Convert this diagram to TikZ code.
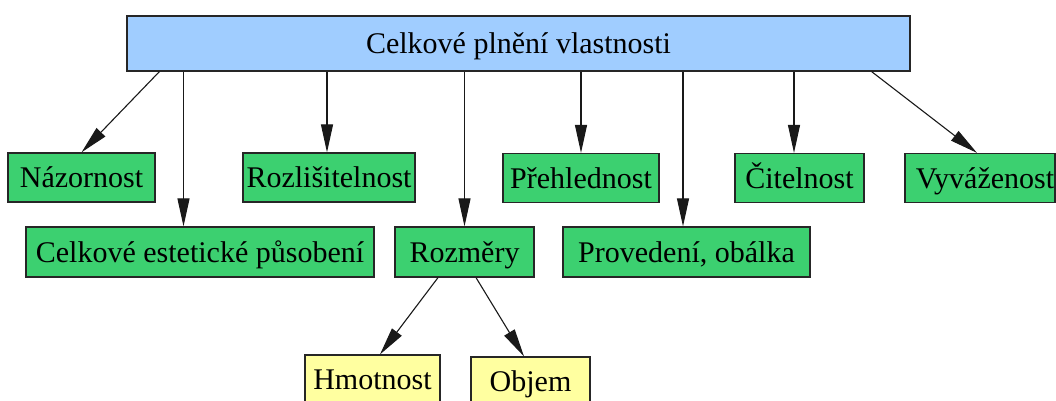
\documentclass[tikz,border=0pt]{standalone}
\usepackage{fontspec}
\setmainfont{LiberationSerif}[Extension=.ttf, UprightFont=*-Regular, BoldFont=*-Bold]
\usetikzlibrary{arrows.meta}

\definecolor{rootblue}{RGB}{160,205,255}
\definecolor{leafgreen}{RGB}{60,208,112}
\definecolor{subyellow}{RGB}{255,255,160}

\begin{document}
\begin{tikzpicture}[x=1pt,y=-1pt,
  box/.style={draw=black!85, line width=1.2pt, inner sep=0pt,
    text height=20pt, text depth=0pt,
    font=\rmfamily\fontsize{30}{36}\selectfont},
  rootbox/.style={box, fill=rootblue, minimum height=55pt},
  greenbox/.style={box, fill=leafgreen, minimum height=49pt},
  yellowbox/.style={box, fill=subyellow, minimum height=49pt},
  arr/.style={line width=1.1pt, draw=black!90,
    -{Triangle[length=28pt,width=12pt]}}]
\useasboundingbox (0,0) rectangle (1056,400);

% root
\node[rootbox, minimum width=783pt] (top) at (518.5,43.5) {Celkové plnění vlastnosti};

% first row
\node[greenbox, minimum width=147pt] (naz)  at (81.5,177.5) {Názornost};
\node[greenbox, minimum width=172pt] (rozl) at (329,177.5)  {Rozlišitelnost};
\node[greenbox, minimum width=156pt] (preh) at (581,178)    {Přehlednost};
\node[greenbox, minimum width=129pt] (cit)  at (799.5,178)  {Čitelnost};
\node[greenbox, minimum width=150pt] (vyv)  at (980,178)    {\hspace*{10pt}Vyváženost};

% second row
\node[greenbox, minimum width=348pt, minimum height=50pt] (est)  at (200,252)   {Celkové estetické působení};
\node[greenbox, minimum width=139pt, minimum height=50pt] (roz)  at (464.5,252) {Rozměry};
\node[greenbox, minimum width=247pt, minimum height=50pt] (prov) at (686.5,252) {Provedení, obálka};

% third row
\node[yellowbox, minimum width=135pt] (hmot) at (372.5,379.5) {Hmotnost};
\node[yellowbox, minimum width=119pt] (obj)  at (530.5,381.5) {Objem};

% arrow end points
\coordinate (eest)  at ([xshift=-16.5pt]est.north);
\coordinate (erozl) at ([xshift=-2pt]rozl.north);
\coordinate (eprov) at ([xshift=-3.5pt]prov.north);
\coordinate (ecit)  at ([xshift=-5.5pt]cit.north);

% connectors from the root
\draw[arr] ([xshift=33pt]top.south west) -- (naz.north);
\draw[arr] (eest |- top.south) -- (eest);
\draw[arr] (erozl |- top.south) -- (erozl);
\draw[arr] (roz.north |- top.south) -- (roz.north);
\draw[arr] (preh.north |- top.south) -- (preh.north);
\draw[arr] (eprov |- top.south) -- (eprov);
\draw[arr] (ecit |- top.south) -- (ecit);
\draw[arr] ([xshift=-39pt]top.south east) -- ([xshift=-3pt]vyv.north);

% connectors from Rozměry
\draw[arr] ([xshift=-26.5pt]roz.south) -- ([xshift=7.5pt]hmot.north);
\draw[arr] ([xshift=11.5pt]roz.south) -- ([xshift=-6.5pt]obj.north);
\end{tikzpicture}
\end{document}
